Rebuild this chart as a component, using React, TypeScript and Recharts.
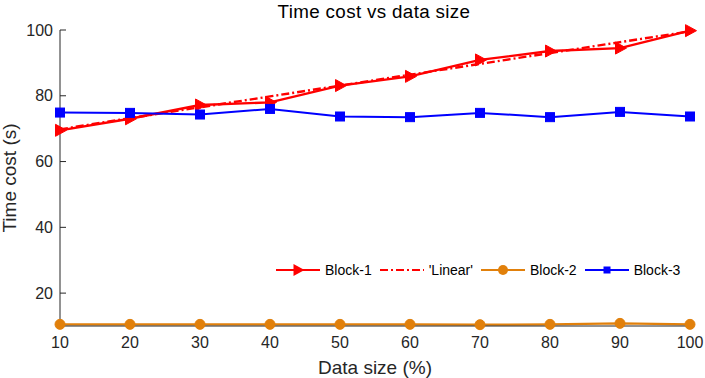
import { LineChart, Line, XAxis, YAxis, Legend } from 'recharts';

const dataSizes = [10, 20, 30, 40, 50, 60, 70, 80, 90, 100];
const block1 = [69.5, 73.0, 77.2, 78.0, 83.1, 85.9, 90.9, 93.6, 94.5, 99.8];
const linearFit = [69.8, 73.2, 76.5, 79.8, 83.1, 86.4, 89.7, 93.0, 96.3, 99.6];
const block2 = [10.5, 10.5, 10.5, 10.5, 10.5, 10.5, 10.4, 10.5, 10.8, 10.5];
const block3 = [74.9, 74.8, 74.3, 76.0, 73.7, 73.5, 74.8, 73.5, 75.1, 73.7];
const xTicks = [10, 20, 30, 40, 50, 60, 70, 80, 90, 100];
const yTicks = [20, 40, 60, 80, 100];

const FONT = '"Liberation Sans", Arial, Helvetica, sans-serif';
const AXIS = '#262626';
const RED = '#ff0000';
const ORANGE = '#e1800b';
const BLUE = '#0000ff';

const data = dataSizes.map((x, i) => ({
  x,
  block1: block1[i],
  linear: linearFit[i],
  block2: block2[i],
  block3: block3[i],
}));

const triangle = (cx: number, cy: number) =>
  `M${cx - 4.5},${cy - 6} L${cx + 6.5},${cy} L${cx - 4.5},${cy + 6} Z`;

const TriangleDot = (props: any) => {
  const { cx, cy, index } = props;
  if (cx == null || cy == null) return null;
  return <path key={`t-${index}`} d={triangle(cx, cy)} fill={RED} stroke={RED} strokeWidth={1} />;
};

const CircleDot = (props: any) => {
  const { cx, cy, index } = props;
  if (cx == null || cy == null) return null;
  return <circle key={`c-${index}`} cx={cx} cy={cy} r={5} fill={ORANGE} stroke={ORANGE} strokeWidth={1} />;
};

const SquareDot = (props: any) => {
  const { cx, cy, index } = props;
  if (cx == null || cy == null) return null;
  return <rect key={`s-${index}`} x={cx - 4.5} y={cy - 4.5} width={9} height={9} fill={BLUE} stroke={BLUE} strokeWidth={1} />;
};

const legendItems = [
  { name: 'Block-1', color: RED, marker: 'triangle', dash: undefined },
  { name: "'Linear'", color: RED, marker: 'none', dash: '8 3 2 3' },
  { name: 'Block-2', color: ORANGE, marker: 'circle', dash: undefined },
  { name: 'Block-3', color: BLUE, marker: 'square', dash: undefined },
];

function renderLegend() {
  return (
    <div style={{ display: 'flex', alignItems: 'center', fontFamily: FONT, fontSize: 14, color: '#000', whiteSpace: 'nowrap' }}>
      {legendItems.map((item) => (
        <div key={item.name} style={{ display: 'flex', alignItems: 'center', marginRight: 8 }}>
          <svg width={44} height={14} style={{ marginRight: 5 }}>
            <line x1={0} y1={7} x2={44} y2={7} stroke={item.color} strokeWidth={2.2} strokeDasharray={item.dash} />
            {item.marker === 'triangle' && <path d={triangle(22, 7)} fill={item.color} />}
            {item.marker === 'circle' && <circle cx={22} cy={7} r={5} fill={item.color} />}
            {item.marker === 'square' && <rect x={18.5} y={3.5} width={7} height={7} fill={item.color} />}
          </svg>
          <span>{item.name}</span>
        </div>
      ))}
    </div>
  );
}

export default function App() {
  return (
    <div style={{ position: 'absolute', left: 0, top: 0, width: 705, height: 378, background: '#fff' }}>
      <LineChart width={705} height={378} data={data} margin={{ top: 30, right: 15, bottom: 0, left: 0 }}>
        <XAxis
          dataKey="x"
          type="number"
          domain={[10, 100]}
          ticks={xTicks}
          height={52}
          stroke={AXIS}
          tickSize={-6}
          tickMargin={17}
          tick={{ fill: AXIS, fontSize: 16, fontFamily: FONT }}
        />
        <XAxis
          xAxisId="top"
          orientation="top"
          dataKey="x"
          type="number"
          domain={[10, 100]}
          ticks={xTicks}
          height={0}
          stroke={AXIS}
          tickSize={-6}
          tickFormatter={() => ''}
        />
        <YAxis
          type="number"
          domain={[10, 100]}
          ticks={yTicks}
          width={60}
          stroke={AXIS}
          tickSize={-6}
          tickMargin={13}
          tick={{ fill: AXIS, fontSize: 16, fontFamily: FONT }}
        />
        <YAxis
          yAxisId="right"
          orientation="right"
          type="number"
          domain={[10, 100]}
          ticks={yTicks}
          width={0}
          stroke={AXIS}
          tickSize={-6}
          tickFormatter={() => ''}
        />
        <Line dataKey="block1" stroke={RED} strokeWidth={2.4} dot={TriangleDot} activeDot={false} isAnimationActive={false} />
        <Line dataKey="linear" stroke={RED} strokeWidth={2.4} strokeDasharray="8 3 2 3" dot={false} activeDot={false} isAnimationActive={false} />
        <Line dataKey="block2" stroke={ORANGE} strokeWidth={2.2} dot={CircleDot} activeDot={false} isAnimationActive={false} />
        <Line dataKey="block3" stroke={BLUE} strokeWidth={2} dot={SquareDot} activeDot={false} isAnimationActive={false} />
        <Legend
          layout="horizontal"
          verticalAlign="middle"
          align="center"
          content={renderLegend}
          wrapperStyle={{ left: 276, top: 262, width: 'auto' }}
        />
        <text x={374} y={17.5} textAnchor="middle" fontFamily={FONT} fontSize={18.8} letterSpacing={0.35} fill="#000">
          Time cost vs data size
        </text>
        <text x={375} y={374} textAnchor="middle" fontFamily={FONT} fontSize={19} fill={AXIS}>
          Data size (%)
        </text>
        <text x={15.5} y={178} textAnchor="middle" fontFamily={FONT} fontSize={19} fill={AXIS} transform="rotate(-90, 15.5, 178)">
          Time cost (s)
        </text>
      </LineChart>
    </div>
  );
}
